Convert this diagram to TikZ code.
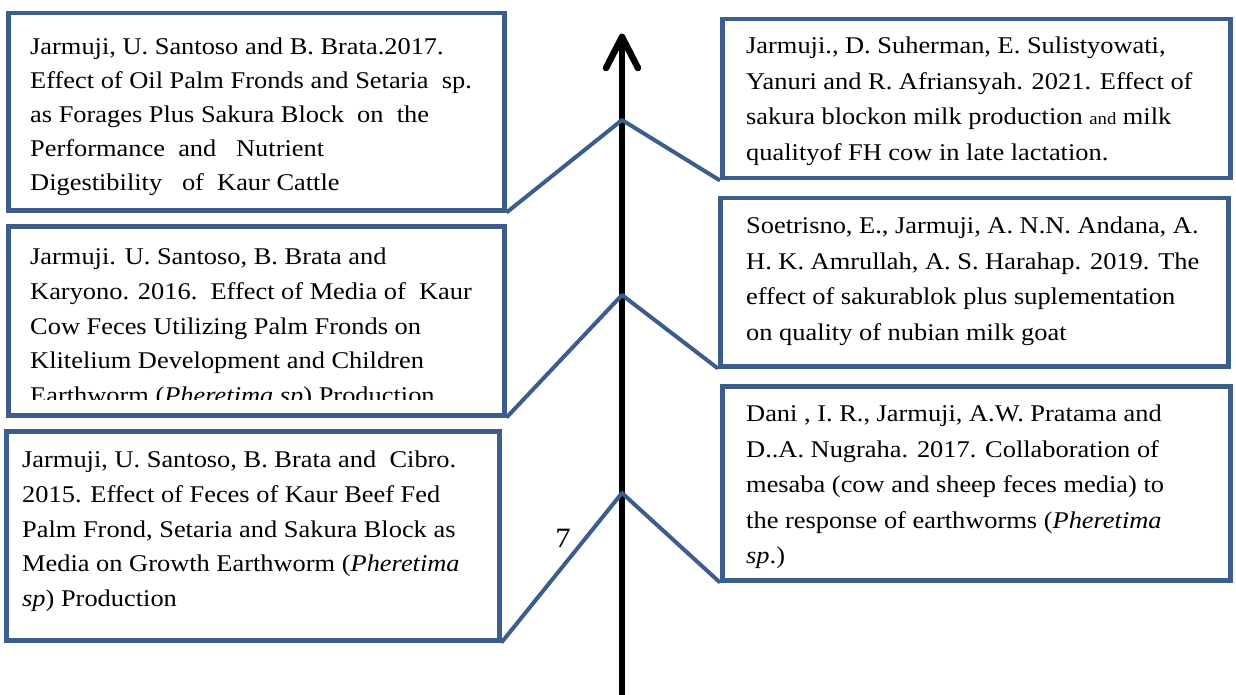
\documentclass[tikz,border=0pt]{standalone}
\usepackage{fontspec}
\setmainfont{Liberation Serif}[FakeStretch=1.1]
\definecolor{boxblue}{HTML}{3B5E8C}
\tikzset{
  refbox/.style={draw=boxblue, line width=4.5pt, fill=white, rectangle, anchor=north west, inner sep=0pt},
  reftext/.style={anchor=north west, inner sep=0pt, align=left, font=\fontsize{24}{35.5}\selectfont},
  conn/.style={draw=boxblue, line width=4pt, line join=round},
  axis/.style={line width=6.5pt, line cap=round, line join=round},
}
\begin{document}
\begin{tikzpicture}[x=1pt, y=-1pt]
\useasboundingbox (0,0) rectangle (1236,695);
% timeline arrow
\coordinate (abot) at (622,700);
\coordinate (atop) at (622,37);
\coordinate (j1) at (622,120);
\coordinate (j2) at (622,295);
\coordinate (j3) at (622,493);
\draw[axis] (abot) -- (atop);
\draw[axis] (atop) -- ++(-16,31);
\draw[axis] (atop) -- ++(16,31);
% boxes
\node[refbox, minimum width=496pt, minimum height=197pt] (L1) at (6,11) {};
\node[refbox, minimum width=496pt, minimum height=189pt] (L2) at (6,224) {};
\node[refbox, minimum width=493pt, minimum height=209pt] (L3) at (4,429) {};
\node[refbox, minimum width=508pt, minimum height=159pt] (R1) at (720,17) {};
\node[refbox, minimum width=508pt, minimum height=168pt] (R2) at (718,196) {};
\node[refbox, minimum width=508pt, minimum height=194pt] (R3) at (720,384) {};
% connectors
\draw[conn] (L1.south east) -- (j1) -- (R1.south west);
\draw[conn] (L2.south east) -- (j2) -- (R2.south west);
\draw[conn] (L3.south east) -- (j3) -- (R3.south west);
% texts
\node[reftext, font=\fontsize{24}{34}\selectfont] (L1t) at (30,38) {Jarmuji, U. Santoso and B. Brata.2017.\\
Effect of Oil Palm Fronds and Setaria\ \ sp.\\
as Forages Plus Sakura Block\ \ on\ \ the\\
Performance\ \ and\ \ \ Nutrient\\
Digestibility\ \ \ of\ \ Kaur Cattle};
\begin{scope}
\clip (6,224) rectangle (502,399);
\node[reftext, font=\fontsize{24}{34.6}\selectfont] (L2t) at (30,248) {Jarmuji. U. Santoso, B. Brata and\\
Karyono. 2016.\ \ Effect of Media of\ \ Kaur\\
Cow Feces Utilizing Palm Fronds on\\
Klitelium Development and Children\\
Earthworm (\textit{Pheretima sp}) Production};
\end{scope}
\node[reftext, font=\fontsize{24}{34.6}\selectfont] (L3t) at (22,451) {Jarmuji, U. Santoso, B. Brata and\ \ Cibro.\\
2015. Effect of Feces of Kaur Beef Fed\\
Palm Frond, Setaria and Sakura Block as\\
Media on Growth Earthworm (\textit{Pheretima}\\
\textit{sp}) Production};
\node[reftext] (R1t) at (746,37) {Jarmuji., D.\ Suherman, E.\ Sulistyowati,\\
Yanuri and R. Afriansyah. 2021. Effect of\\
sakura blockon milk production {\fontsize{17}{20}\selectfont and} milk\\
qualityof FH cow in late lactation.};
\node[reftext] (R2t) at (746,217) {Soetrisno, E., Jarmuji, A. N.N. Andana, A.\\
H. K. Amrullah, A. S. Harahap. 2019. The\\
effect of sakurablok plus suplementation\\
on quality of nubian milk goat};
\node[reftext] (R3t) at (746,405) {Dani , I. R., Jarmuji, A.W. Pratama and\\
D..A. Nugraha. 2017. Collaboration of\\
mesaba (cow and sheep feces media) to\\
the response of earthworms (\textit{Pheretima}\\
\textit{sp}.)};
\node[font=\fontsize{28}{30}\selectfont, inner sep=0pt] (pg) at (563,538) {7};
\end{tikzpicture}
\end{document}
